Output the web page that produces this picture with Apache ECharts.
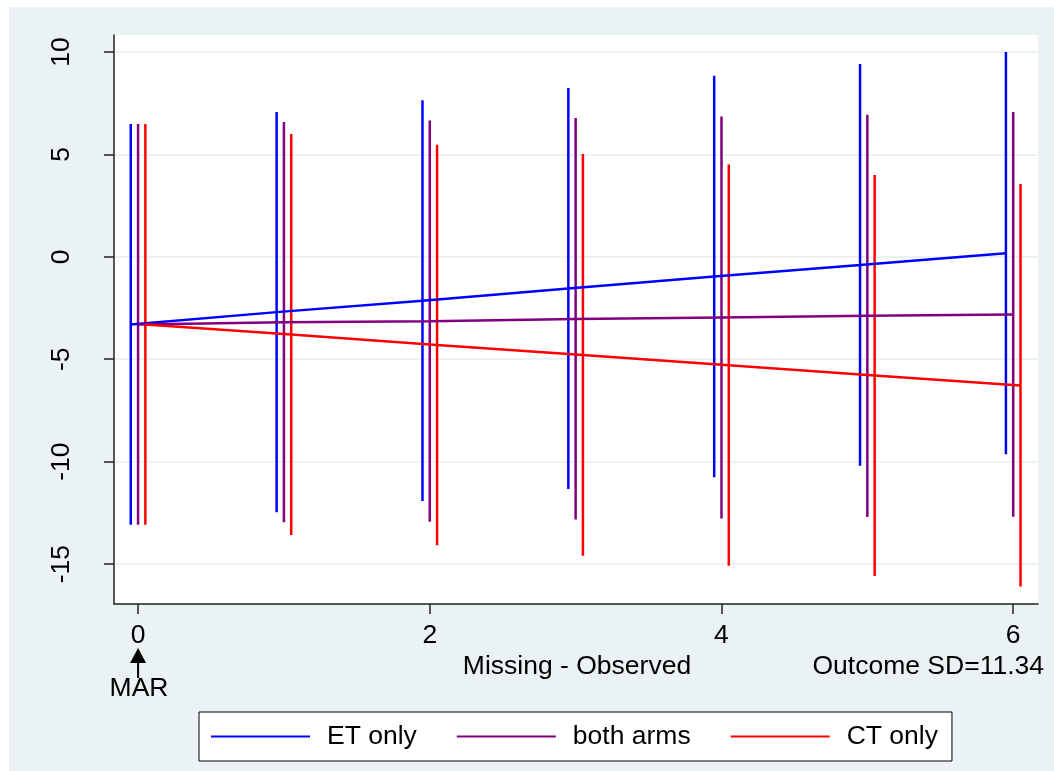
<!DOCTYPE html>
<html>
<head>
<meta charset="utf-8">
<script src="https://cdn.jsdelivr.net/npm/echarts@6/dist/echarts.min.js"></script>
<style>
html, body { margin: 0; padding: 0; background: #fff; }
#main { width: 1054px; height: 771px; }
</style>
</head>
<body>
<div id="main"></div>
<script>
// Missing - Observed (x)
var groups = [0, 1, 2, 3, 4, 5, 6];

// ET only
var etHigh = [6.48, 7.07, 7.64, 8.24, 8.84, 9.41, 10.0];
var etLow = [-13.08, -12.47, -11.92, -11.33, -10.76, -10.2, -9.64];
var etMean = [-3.3, -2.7, -2.14, -1.55, -0.96, -0.4, 0.18];

// both arms
var bothHigh = [6.48, 6.58, 6.66, 6.78, 6.85, 6.94, 7.07];
var bothLow = [-13.08, -12.96, -12.93, -12.83, -12.77, -12.7, -12.69];
var bothMean = [-3.3, -3.19, -3.14, -3.03, -2.96, -2.88, -2.81];

// CT only
var ctHigh = [6.48, 6.0, 5.47, 5.02, 4.51, 4.0, 3.55];
var ctLow = [-13.08, -13.58, -14.08, -14.59, -15.08, -15.58, -16.1];
var ctMean = [-3.3, -3.79, -4.31, -4.79, -5.29, -5.79, -6.28];

var xTicks = [0, 2, 4, 6];
var yTicks = [-15, -10, -5, 0, 5, 10];

var names = ['ET only', 'both arms', 'CT only'];
var colors = ['#0000ff', '#800080', '#ff0000'];
var offsets = [-0.05, 0, 0.05];

function barData(lows, highs, off) {
	return groups.map(function (g, i) { return [g + off, lows[i], highs[i]]; });
}
function lineData(means, off) {
	return groups.map(function (g, i) { return [g + off, means[i]]; });
}
function renderBar(params, api) {
	var p1 = api.coord([api.value(0), api.value(1)]);
	var p2 = api.coord([api.value(0), api.value(2)]);
	return {
		type: 'line',
		shape: { x1: p1[0], y1: p1[1], x2: p2[0], y2: p2[1] },
		style: { stroke: api.visual('color'), lineWidth: 2.5 }
	};
}

var lows = [etLow, bothLow, ctLow];
var highs = [etHigh, bothHigh, ctHigh];
var means = [etMean, bothMean, ctMean];

var series = [];
for (var k = 0; k < 3; k++) {
	series.push({
		name: names[k],
		type: 'custom',
		renderItem: renderBar,
		encode: { x: 0, y: [1, 2] },
		itemStyle: { color: colors[k] },
		data: barData(lows[k], highs[k], offsets[k]),
		silent: true
	});
}
for (var k = 0; k < 3; k++) {
	series.push({
		name: names[k],
		type: 'line',
		showSymbol: false,
		symbol: 'none',
		lineStyle: { color: colors[k], width: 2.5 },
		itemStyle: { color: colors[k] },
		data: lineData(means[k], offsets[k]),
		silent: true,
		z: 3
	});
}

var chart = echarts.init(document.getElementById('main'));
var font = '"Liberation Sans", Arial, sans-serif';
var fs = 26.5;

var option = {
	backgroundColor: '#fff',
	animation: false,
	textStyle: { fontFamily: font },
	grid: {
		left: 114, right: 16, top: 35, bottom: 167,
		show: true, backgroundColor: '#fff', borderWidth: 0
	},
	xAxis: {
		type: 'value',
		min: -0.165, max: 6.17,
		axisLine: { show: true, onZero: false, lineStyle: { color: '#222', width: 1.5 } },
		axisTick: { show: true, customValues: xTicks, length: 10, lineStyle: { color: '#222', width: 1.5 } },
		axisLabel: { customValues: xTicks, fontSize: fs, color: '#000', margin: 18, fontFamily: font },
		splitLine: { show: false }
	},
	yAxis: {
		type: 'value',
		min: -16.95, max: 10.83,
		axisLine: { show: true, onZero: false, lineStyle: { color: '#222', width: 1.5 } },
		axisTick: { show: true, customValues: yTicks, length: 10, lineStyle: { color: '#222', width: 1.5 } },
		axisLabel: { customValues: yTicks, fontSize: fs, color: '#000', rotate: 90, margin: 39, fontFamily: font },
		splitLine: { show: true, lineStyle: { color: '#eaf2f3', width: 2 } }
	},
	legend: {
		left: 199, top: 712,
		padding: [11, 14, 11, 12],
		backgroundColor: '#fff',
		borderColor: '#000',
		borderWidth: 1,
		borderRadius: 0,
		itemWidth: 99, itemHeight: 2, itemGap: 40,
		selectedMode: false,
		data: names.map(function (n) { return { name: n, icon: 'rect' }; }),
		textStyle: { fontSize: fs, color: '#000', padding: [0, 0, 0, 12], fontFamily: font }
	},
	series: series
};
chart.setOption(option);

// annotations outside the plot region
var x0 = chart.convertToPixel({ xAxisIndex: 0 }, 0);
chart.setOption({
	graphic: [
		{ type: 'rect', z: -10, shape: { x: 9, y: 7, width: 1045, height: 764 }, style: { fill: '#eaf2f3' }, silent: true },
		{ type: 'text', x: 577, y: 667, style: { text: 'Missing - Observed', fontSize: fs, fontFamily: font, fill: '#000', align: 'center', verticalAlign: 'middle' } },
		{ type: 'text', x: 1044, y: 667, style: { text: 'Outcome SD=11.34', fontSize: fs, fontFamily: font, fill: '#000', align: 'right', verticalAlign: 'middle' } },
		{ type: 'line', shape: { x1: x0, y1: 662, x2: x0, y2: 678 }, style: { stroke: '#000', lineWidth: 2 } },
		{ type: 'polygon', shape: { points: [[x0, 648], [x0 - 8, 663], [x0 + 8, 663]] }, style: { fill: '#000' } },
		{ type: 'text', x: x0 + 1, y: 689, style: { text: 'MAR', fontSize: fs, fontFamily: font, fill: '#000', align: 'center', verticalAlign: 'middle' } }
	]
});
</script>
</body>
</html>
